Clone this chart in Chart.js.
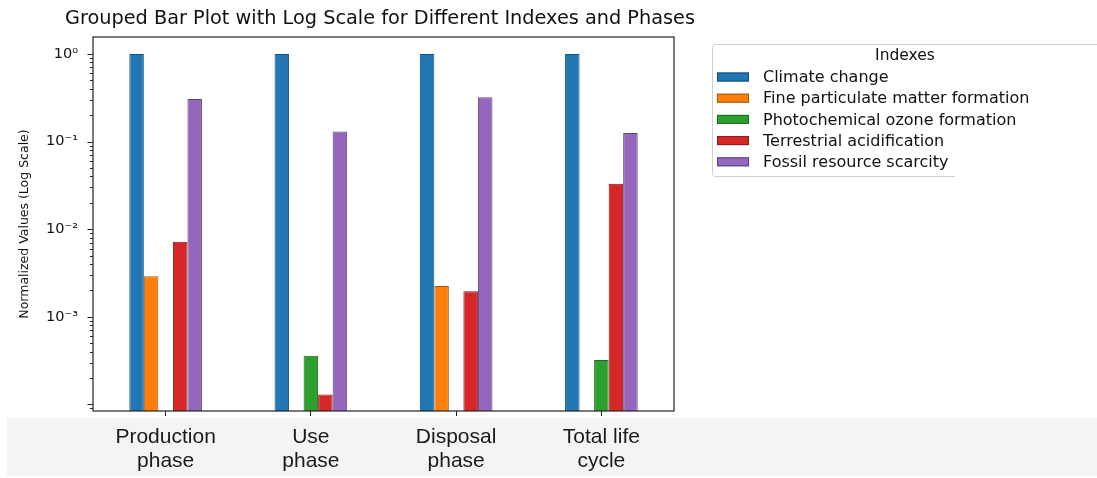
<!DOCTYPE html>
<html>
<head>
<meta charset="utf-8">
<script src="https://cdn.jsdelivr.net/npm/chart.js@4.4.1/dist/chart.umd.min.js"></script>
<style>
  html, body { margin: 0; padding: 0; background: #fff; }
  canvas { display: block; }
</style>
</head>
<body>
<canvas id="chart" width="1097" height="478"></canvas>
<script>
'use strict';

// ── data ────────────────────────────────────────────────────────────────────
const TITLE   = 'Grouped Bar Plot with Log Scale for Different Indexes and Phases';
const PHASES  = [['Production', 'phase'], ['Use', 'phase'], ['Disposal', 'phase'], ['Total life', 'cycle']];
const INDEXES = ['Climate change', 'Fine particulate matter formation', 'Photochemical ozone formation',
                 'Terrestrial acidification', 'Fossil resource scarcity'];

const CLIMATE = [1, 1, 1, 1];
const FINE_PM = [0.0029, null, 0.00225, null];
const OZONE   = [null, 0.00036, null, 0.00032];
const ACIDIF  = [0.0072, 0.00013, 0.00195, 0.033];
const FOSSIL  = [0.305, 0.13, 0.32, 0.125];
const SERIES  = [CLIMATE, FINE_PM, OZONE, ACIDIF, FOSSIL];

const Y_EXPONENTS = [-5, -4, -3, -2, -1, 0];
const Y_MANTISSAS = [1, 2, 3, 4, 5, 6, 7, 8, 9];
const Y_LABELED   = [0, -1, -2, -3];
const Y_MIN = 8.4e-5;
const Y_MAX = 1.56;

const COLORS = ['#1f77b4', '#ff7f0e', '#2ca02c', '#d62728', '#9467bd'];
const EDGES  = ['#174f78', '#a85708', '#1d6b1d', '#8a1a1a', '#5e437d'];

const SUP = { '0': '\u2070', '1': '\u00b9', '2': '\u00b2', '3': '\u00b3', '4': '\u2074', '5': '\u2075', '-': '\u207b' };
const sup = s => String(s).split('').map(c => SUP[c] || c).join('');

const expOf = v => Math.round(Math.log10(v));
const isPow10 = v => Math.abs(Math.log10(v) - expOf(v)) < 1e-9;

// ── plugins ─────────────────────────────────────────────────────────────────
const backdrop = {
  id: 'backdrop',
  beforeDraw(chart) {
    const ctx = chart.ctx;
    ctx.save();
    ctx.fillStyle = '#fff';
    ctx.fillRect(0, 0, chart.width, chart.height);
    ctx.fillStyle = '#f4f4f4';               // grey strip behind phase labels
    ctx.fillRect(7, 418, chart.width - 7, 58);
    ctx.restore();
  },
};

const frame = {
  id: 'frame',
  afterDraw(chart) {
    const { ctx, chartArea: a } = chart;
    const y = chart.scales.y;
    ctx.save();

    // title (drawn by hand so it may run wider than the plot box)
    ctx.fillStyle = '#111';
    ctx.textAlign = 'center';
    ctx.textBaseline = 'middle';
    ctx.font = '19.3px "DejaVu Sans"';
    ctx.fillText(TITLE, 380, 19);

    ctx.strokeStyle = '#222';
    ctx.lineWidth = 1.2;
    ctx.strokeRect(a.left, a.top, a.right - a.left, a.bottom - a.top);

    // log ticks: long for decades, short for the rest
    ctx.lineWidth = 1;
    y.ticks.forEach(t => {
      const py = Math.round(y.getPixelForValue(t.value)) + 0.5;
      const len = isPow10(t.value) ? 5.5 : 3;
      ctx.beginPath();
      ctx.moveTo(a.left - len, py);
      ctx.lineTo(a.left, py);
      ctx.stroke();
    });

    // legend
    const L = { x: 712, top: 44, bottom: 176, right: 955 };
    ctx.strokeStyle = '#cfcfcf';
    ctx.beginPath();
    ctx.moveTo(chart.width, L.top + 0.5);
    ctx.lineTo(L.x + 3, L.top + 0.5);
    ctx.arcTo(L.x + 0.5, L.top + 0.5, L.x + 0.5, L.top + 3, 3);
    ctx.lineTo(L.x + 0.5, L.bottom - 3);
    ctx.arcTo(L.x + 0.5, L.bottom + 0.5, L.x + 3, L.bottom + 0.5, 3);
    ctx.lineTo(L.right, L.bottom + 0.5);
    ctx.stroke();

    ctx.fillStyle = '#111';
    ctx.font = '15.5px "DejaVu Sans"';
    ctx.fillText('Indexes', 905, 56);

    ctx.textAlign = 'left';
    ctx.font = '16px "DejaVu Sans"';
    chart.data.datasets.forEach((ds, i) => {
      const cy = 77 + i * 21.2;
      ctx.fillStyle = ds.backgroundColor;
      ctx.fillRect(717, cy - 4.5, 32, 9);
      ctx.strokeStyle = ds.borderColor;
      ctx.strokeRect(717.5, cy - 4, 31, 8);
      ctx.fillStyle = '#111';
      ctx.fillText(ds.label, 763, cy + 1);
    });
    ctx.restore();
  },
};

// ── chart ───────────────────────────────────────────────────────────────────
new Chart(document.getElementById('chart').getContext('2d'), {
  type: 'bar',
  data: {
    labels: PHASES,
    datasets: SERIES.map((vals, i) => ({
      label: INDEXES[i],
      data: vals,
      backgroundColor: COLORS[i],
      borderColor: EDGES[i],
      borderWidth: 1,
      categoryPercentage: 0.5,
      barPercentage: 1,
    })),
  },
  options: {
    responsive: false, animation: false, devicePixelRatio: 1,
    layout: { padding: { left: 0, right: 423, top: 37, bottom: 0 } },
    plugins: {
      legend: { display: false },
      tooltip: { enabled: false },
      title: { display: false },
    },
    scales: {
      x: {
        type: 'category', offset: true,
        grid: { offset: false, drawOnChartArea: false, tickLength: 5, color: '#222', tickColor: '#222', tickWidth: 1 },
        border: { display: false },
        ticks: { autoSkip: false, maxRotation: 0, padding: 9, color: '#1a1a1a',
                 font: { family: "'Liberation Sans'", size: 21, lineHeight: 1.14 } },
        afterFit: s => { s.height = 67; },
      },
      y: {
        type: 'logarithmic', min: Y_MIN, max: Y_MAX, bounds: 'data',
        afterBuildTicks: s => {
          s.ticks = Y_EXPONENTS.flatMap(e => Y_MANTISSAS.map(m => m * Math.pow(10, e)))
            .filter(v => v >= s.min && v <= s.max)
            .map(v => ({ value: v, major: isPow10(v) }));
        },
        grid: { drawOnChartArea: false, tickLength: 6, color: 'rgba(0,0,0,0)', tickColor: 'rgba(0,0,0,0)' },
        border: { display: false },
        ticks: {
          autoSkip: false, padding: 9, color: '#111',
          font: { family: "'DejaVu Sans'", size: 14.5 },
          callback: v => (isPow10(v) && Y_LABELED.includes(expOf(v))) ? '10' + sup(expOf(v)) : '',
        },
        title: {
          display: true, text: 'Normalized Values (Log Scale)', color: '#111',
          font: { family: "'DejaVu Sans'", size: 12.5 }, padding: { top: 17, bottom: 0 },
        },
        afterFit: s => { s.width = 93; },
      },
    },
  },
  plugins: [backdrop, frame],
});
</script>
</body>
</html>
